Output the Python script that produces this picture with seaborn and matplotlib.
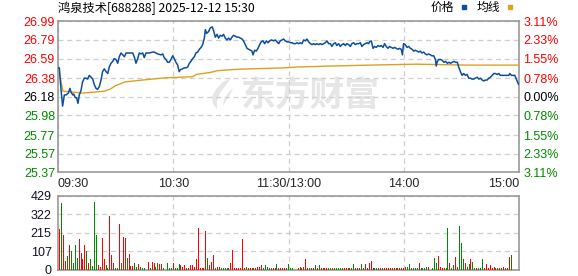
import matplotlib
matplotlib.use("Agg")
import matplotlib.pyplot as plt
from matplotlib.patches import Rectangle, Polygon
import seaborn as sns
import numpy as np
import pandas as pd

# ---------------- data ----------------
title = "鸿泉技术[688288] 2025-12-12 15:30"
price_levels = [26.99, 26.79, 26.59, 26.38, 26.18, 25.98, 25.77, 25.57, 25.37]
pct_labels = ["3.11%", "2.33%", "1.55%", "0.78%", "0.00%", "0.78%", "1.55%", "2.33%", "3.11%"]
prev_close = 26.18
time_ticks = [0, 60, 120, 180, 240]
time_labels = ["09:30", "10:30", "11:30/13:00", "14:00", "15:00"]
vol_ticks = [0, 107, 215, 322, 429]

price_min = [0.0, 0.7, 1.6, 2.4, 3.3, 4.2, 5.4, 6.2, 6.8, 7.7, 8.2, 9.0, 9.7, 10.4, 11.1, 12.0,
             12.8, 13.7, 14.6, 15.4, 16.3, 17.2, 18.1, 18.9, 19.8, 20.6, 21.5, 22.4, 23.2, 24.1,
             25.0, 25.9, 26.7, 27.6, 28.5, 29.3, 30.2, 31.1, 31.9, 32.8, 33.7, 34.6, 35.4, 36.3,
             37.2, 38.9, 39.7, 40.6, 41.5, 42.3, 43.2, 44.1, 44.9, 45.8, 46.7, 47.5, 49.3, 50.1,
             51.0, 51.9, 53.6, 54.5, 55.3, 56.2, 57.1, 57.9, 58.8, 59.7, 60.5, 61.4, 62.3, 63.1,
             63.7, 64.8, 65.7, 66.6, 67.5, 68.4, 69.2, 70.1, 71.0, 71.8, 72.7, 73.6, 74.5, 75.3,
             76.2, 76.7, 77.4, 78.4, 79.3, 80.3, 81.0, 81.9, 82.8, 83.6, 84.5, 85.4, 86.2, 87.1,
             88.0, 88.8, 89.7, 90.6, 91.4, 92.3, 93.2, 94.0, 94.9, 95.8, 96.6, 97.5, 98.4, 99.3,
             100.1, 101.0, 101.5, 102.4, 103.2, 104.1, 105.0, 105.8, 106.7, 107.6, 108.5, 109.3,
             110.2, 111.1, 112.3, 113.1, 114.0, 114.9, 115.7, 116.6, 117.5, 118.3, 119.2, 120.1,
             121.0, 121.9, 122.7, 123.6, 124.5, 125.3, 126.2, 127.0, 127.9, 128.8, 129.6, 130.5,
             131.4, 132.2, 133.1, 134.0, 134.8, 135.7, 136.5, 137.4, 138.3, 139.2, 140.0, 140.9,
             141.8, 142.6, 143.5, 144.4, 145.2, 146.1, 147.0, 147.8, 148.7, 149.6, 150.4, 151.3,
             152.2, 153.0, 153.9, 154.8, 155.6, 156.5, 157.4, 158.2, 159.1, 160.0, 160.9, 161.7,
             162.2, 163.1, 164.0, 164.8, 165.7, 166.6, 167.4, 168.3, 169.2, 170.0, 170.9, 171.8,
             172.6, 173.5, 174.4, 175.2, 176.1, 177.0, 177.8, 178.7, 179.3, 179.9, 180.8, 181.7,
             182.6, 183.4, 184.3, 185.2, 186.0, 186.9, 187.8, 188.6, 189.5, 190.4, 191.2, 192.1,
             193.0, 193.9, 194.7, 195.6, 196.5, 196.9, 197.5, 198.3, 199.2, 200.1, 200.9, 201.8,
             202.7, 203.5, 204.4, 205.3, 206.1, 207.0, 207.9, 208.6, 209.5, 210.4, 211.2, 212.1,
             213.0, 213.8, 214.7, 215.6, 216.4, 217.3, 218.2, 219.1, 219.9, 220.8, 221.7, 222.5,
             223.4, 224.3, 225.1, 226.0, 226.9, 227.7, 228.6, 229.5, 230.3, 231.2, 232.1, 232.9,
             233.8, 234.7, 235.2, 236.1, 236.9, 237.8, 238.8, 239.6, 240.0]
price_val = [26.49, 26.49, 26.25, 26.08, 26.20, 26.20, 26.22, 26.27, 26.23, 26.20, 26.21, 26.17,
             26.17, 26.11, 26.20, 26.25, 26.34, 26.38, 26.38, 26.37, 26.41, 26.39, 26.37, 26.31,
             26.27, 26.26, 26.29, 26.36, 26.45, 26.48, 26.45, 26.43, 26.50, 26.54, 26.56, 26.59,
             26.58, 26.54, 26.61, 26.65, 26.63, 26.61, 26.65, 26.65, 26.65, 26.65, 26.61, 26.54,
             26.59, 26.65, 26.64, 26.65, 26.60, 26.65, 26.65, 26.65, 26.66, 26.66, 26.65, 26.64,
             26.63, 26.64, 26.60, 26.58, 26.55, 26.55, 26.58, 26.62, 26.59, 26.55, 26.52, 26.45,
             26.47, 26.48, 26.49, 26.49, 26.50, 26.54, 26.56, 26.59, 26.61, 26.65, 26.66, 26.69,
             26.71, 26.74, 26.81, 26.90, 26.86, 26.88, 26.92, 26.93, 26.89, 26.82, 26.85, 26.81,
             26.84, 26.83, 26.85, 26.81, 26.79, 26.81, 26.79, 26.82, 26.84, 26.83, 26.82, 26.82,
             26.81, 26.80, 26.78, 26.74, 26.70, 26.69, 26.68, 26.67, 26.63, 26.68, 26.67, 26.70,
             26.74, 26.77, 26.78, 26.75, 26.78, 26.76, 26.78, 26.79, 26.78, 26.79, 26.77, 26.75,
             26.78, 26.79, 26.80, 26.78, 26.77, 26.77, 26.76, 26.76, 26.75, 26.75, 26.76, 26.75,
             26.76, 26.75, 26.79, 26.78, 26.80, 26.77, 26.75, 26.74, 26.75, 26.74, 26.75, 26.74,
             26.75, 26.74, 26.75, 26.76, 26.78, 26.75, 26.75, 26.72, 26.75, 26.76, 26.73, 26.75,
             26.72, 26.74, 26.75, 26.73, 26.75, 26.74, 26.72, 26.75, 26.76, 26.74, 26.75, 26.75,
             26.76, 26.72, 26.74, 26.75, 26.76, 26.75, 26.77, 26.78, 26.70, 26.72, 26.71, 26.73,
             26.72, 26.73, 26.71, 26.75, 26.72, 26.70, 26.72, 26.71, 26.70, 26.71, 26.70, 26.69,
             26.70, 26.69, 26.63, 26.75, 26.74, 26.71, 26.72, 26.70, 26.69, 26.67, 26.68, 26.67,
             26.66, 26.67, 26.65, 26.66, 26.64, 26.63, 26.64, 26.63, 26.62, 26.62, 26.58, 26.51,
             26.56, 26.58, 26.58, 26.57, 26.55, 26.56, 26.54, 26.55, 26.54, 26.55, 26.56, 26.55,
             26.55, 26.50, 26.45, 26.41, 26.43, 26.41, 26.42, 26.38, 26.38, 26.37, 26.37, 26.38,
             26.39, 26.37, 26.38, 26.36, 26.35, 26.36, 26.36, 26.38, 26.39, 26.41, 26.43, 26.43,
             26.42, 26.43, 26.41, 26.41, 26.41, 26.41, 26.41, 26.41, 26.43, 26.41, 26.41, 26.41,
             26.36, 26.32, 26.31]

avg_min = [0, 1, 2.6, 13, 24, 27, 30, 35, 44, 56.6, 70, 72, 79, 83, 93, 117, 125, 142, 162,
           186.7, 214, 240]
avg_val = [26.49, 26.40, 26.24, 26.22, 26.24, 26.26, 26.30, 26.34, 26.36, 26.385, 26.395, 26.42,
           26.44, 26.46, 26.475, 26.49, 26.50, 26.51, 26.52, 26.53, 26.52, 26.52]

volume = [0, 239, 390, 200, 50, 83, 146, 108, 37, 146,
          71, 181, 100, 60, 146, 112, 37, 60, 21, 394,
          204, 25, 17, 187, 65, 25, 10, 314, 88, 42,
          8, 8, 267, 42, 189, 183, 71, 94, 23, 23,
          42, 19, 35, 19, 8, 8, 0, 48, 8, 48,
          42, 19, 37, 31, 31, 8, 0, 42, 8, 8,
          37, 8, 8, 31, 25, 15, 25, 8, 8, 25,
          25, 19, 65, 244, 8, 13, 8, 227, 71, 25,
          48, 88, 8, 19, 19, 8, 8, 8, 8, 8,
          42, 117, 8, 8, 8, 8, 181, 8, 19, 8,
          8, 13, 8, 13, 19, 19, 25, 8, 25, 19,
          13, 8, 8, 8, 31, 8, 8, 8, 8, 13,
          31, 8, 8, 0, 0, 13, 15, 8, 19, 60,
          13, 8, 8, 8, 25, 8, 25, 8, 8, 8,
          8, 8, 13, 8, 8, 8, 8, 8, 8, 8,
          13, 8, 13, 8, 31, 8, 8, 8, 31, 8,
          31, 8, 42, 54, 8, 8, 13, 13, 8, 8,
          8, 8, 13, 8, 8, 8, 8, 8, 8, 8,
          13, 19, 19, 31, 8, 8, 8, 13, 42, 13,
          8, 8, 19, 19, 0, 8, 71, 42, 83, 19,
          13, 8, 8, 244, 37, 8, 25, 77, 19, 256,
          158, 65, 42, 19, 31, 60, 48, 8, 8, 13,
          8, 60, 13, 31, 13, 25, 13, 19, 8, 8,
          8, 13, 19, 8, 8, 77, 88, 0, 0, 0,
          100]
vol_dir = list("rrgrrgrggg" "grrrrgrggg" "grrrrggrrr" "ggrgrrgrrr" "ggrggggrgr"
               "rggrrggggg" "rgggrrrgrr" "rrrrrrrrgr" "rrgrrggggr" "rrrrrrrrgr"
               "rgrrrrrggg" "rgrrgrrrrg" "gggggrrgrr" "rgrrgrgrrr" "rggrggggrr"
               "rgrggrrrgg" "rrrrrggrrg" "rrrrgrrgrr" "rrggggggrg" "gggrggggrr"
               "rrggrggrrg" "ggrggrggrg" "ggrrrrrrgg" "rrrgrrgggg" "g")

# ---------------- style ----------------
sns.set_theme(style="white")
plt.rcParams['font.family'] = ['Liberation Sans', 'Noto Sans CJK SC', 'DejaVu Sans']
plt.rcParams['axes.unicode_minus'] = False

RED = "#FF0000"
GREEN = "#008A00"
BLUE = "#0C4FA0"
GOLD = "#DCA21F"
SPINE = "#999999"
GRID = "#CFCFCF"
WM = "#E6E6E6"

fig = plt.figure(figsize=(5.78, 2.76), dpi=100)
ax = fig.add_axes([58 / 578, 1 - 172.3 / 276, 461 / 578, 151 / 276])
axv = fig.add_axes([58 / 578, 1 - 269.8 / 276, 461 / 578, 73.8 / 276])


def px2ax(px, py):
    return ((px - 58) / 461, (172.3 - py) / 151)


# watermark (logo + text)
ax.text(px2ax(310, 95)[0], px2ax(310, 95)[1], "东方财富", transform=ax.transAxes,
        ha="center", va="center", fontsize=25, fontweight="bold", color=WM,
        family=["Noto Sans CJK SC"], zorder=0)
leaf = [(231, 78), (223, 82), (216, 89), (212, 97), (213, 104), (217, 109), (217, 101),
        (220, 93), (226, 85)]
ax.add_patch(Polygon([px2ax(*p) for p in leaf], closed=True, transform=ax.transAxes,
                     facecolor=WM, edgecolor="none", zorder=0))
leaf2 = [(233, 88), (228, 93), (224, 100), (223, 106), (226, 101), (230, 95)]
ax.add_patch(Polygon([px2ax(*p) for p in leaf2], closed=True, transform=ax.transAxes,
                     facecolor=WM, edgecolor="none", zorder=0))

# ---------------- price panel ----------------
sns.lineplot(x=avg_min, y=avg_val, ax=ax, color=GOLD, linewidth=1.0, estimator=None, zorder=3)
sns.lineplot(x=price_min, y=price_val, ax=ax, color=BLUE, linewidth=1.1, estimator=None, zorder=4)

ax.set_xlim(0, 240)
ax.set_ylim(price_levels[-1], price_levels[0])
ax.set_xticks(time_ticks)
ax.set_xticklabels(time_labels, fontsize=9)
tl = ax.get_xticklabels()
tl[0].set_ha("left")
tl[-1].set_ha("right")
ax.set_yticks(price_levels)
ax.set_yticklabels([f"{v:.2f}" for v in price_levels], fontsize=9)
for lab, v in zip(ax.get_yticklabels(), price_levels):
    lab.set_color(RED if v > prev_close + 1e-9 else (GREEN if v < prev_close - 1e-9 else "black"))
ax.tick_params(axis="y", length=0, pad=2.2)
ax.tick_params(axis="x", length=0, pad=4.0)
ax.grid(True, linestyle=(0, (4, 3)), color=GRID, linewidth=0.9)
ax.set_xlabel("")
ax.set_ylabel("")
for s in ax.spines.values():
    s.set_color(SPINE)
    s.set_linewidth(1.2)

axr = ax.twinx()
axr.set_ylim(price_levels[-1], price_levels[0])
axr.set_yticks(price_levels)
axr.set_yticklabels(pct_labels, fontsize=9)
for lab, v in zip(axr.get_yticklabels(), price_levels):
    lab.set_color(RED if v > prev_close + 1e-9 else (GREEN if v < prev_close - 1e-9 else "black"))
axr.tick_params(axis="y", length=0, pad=3.0)
axr.grid(False)
for s in axr.spines.values():
    s.set_visible(False)

# ---------------- volume panel ----------------
minutes = np.arange(len(volume))
vdf = pd.DataFrame({"minute": minutes, "volume": volume, "dir": vol_dir[:len(volume)]})
for key, col in (("r", RED), ("g", GREEN)):
    sub = vdf.copy()
    sub.loc[sub["dir"] != key, "volume"] = 0
    sns.barplot(data=sub, x="minute", y="volume", color=col, native_scale=True,
                width=0.52, saturation=1, errorbar=None, linewidth=0,
                antialiased=False, snap=True, ax=axv, zorder=3)
axv.set_xlim(0, 240)
axv.set_ylim(0, vol_ticks[-1])
axv.set_yticks(vol_ticks)
axv.set_yticklabels([str(v) for v in vol_ticks], fontsize=9, color="#111122")
axv.set_xticks([60, 120, 180])
axv.set_xticklabels([])
axv.tick_params(axis="both", length=0, pad=4.6)
axv.grid(True, linestyle=(0, (4, 3)), color=GRID, linewidth=0.9, zorder=0)
axv.set_axisbelow(True)
axv.set_xlabel("")
axv.set_ylabel("")
for s in axv.spines.values():
    s.set_color(SPINE)
    s.set_linewidth(1.2)

# ---------------- header ----------------
fig.text(58 / 578, 1 - 8 / 276, title, ha="left", va="center", fontsize=8.8,
         family=["Noto Sans CJK SC", "DejaVu Sans"], color="black")
fig.text(431 / 578, 1 - 7.7 / 276, "价格", ha="left", va="center", fontsize=8.5,
         family=["Noto Sans CJK SC"], color="black")
fig.text(477 / 578, 1 - 7.7 / 276, "均线", ha="left", va="center", fontsize=8.5,
         family=["Noto Sans CJK SC"], color="black")
fig.patches.append(Rectangle((462 / 578, 1 - 8.5 / 276), 4 / 578, 3 / 276,
                             transform=fig.transFigure, color=BLUE, figure=fig))
fig.patches.append(Rectangle((508 / 578, 1 - 8.5 / 276), 4 / 578, 3 / 276,
                             transform=fig.transFigure, color=GOLD, figure=fig))

fig.savefig("out.png", dpi=100)
